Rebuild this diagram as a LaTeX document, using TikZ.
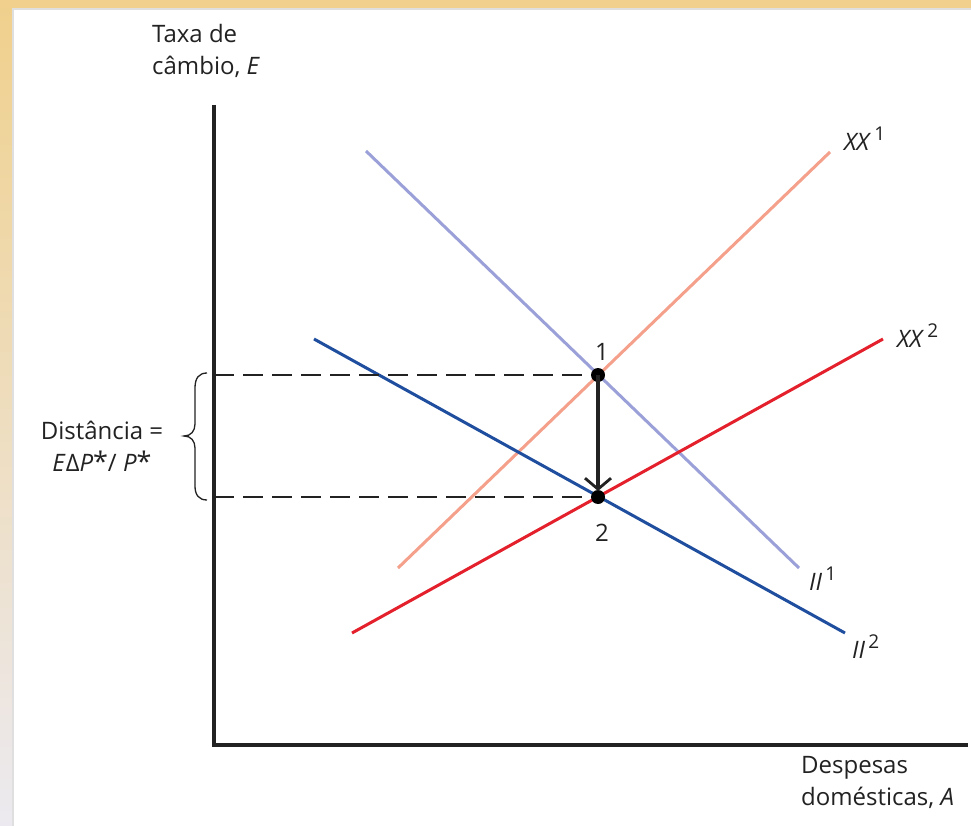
\documentclass[tikz,border=0pt]{standalone}
\usepackage{fontspec}
\setmainfont{Open Sans}
\usetikzlibrary{arrows.meta}
\definecolor{frameorange}{HTML}{F0D08C}
\definecolor{framegray}{HTML}{ECEAF0}
\definecolor{xxone}{HTML}{F4A08A}
\definecolor{xxtwo}{HTML}{E3202B}
\definecolor{iione}{HTML}{9BA1D8}
\definecolor{iitwo}{HTML}{1F4E9F}
\definecolor{ink}{HTML}{222222}
\newcommand{\supr}[1]{\raisebox{0.42em}{\fontsize{19}{19}\selectfont #1}}
\newcommand{\bigast}{{\fontsize{27}{27}\selectfont *}}
\begin{document}
\begin{tikzpicture}[x=1pt,y=-1pt,
  lbl/.style={font=\fontsize{24}{32}\selectfont, text=ink, inner sep=0pt},
  curve/.style={line width=3pt},
  axis/.style={line width=4pt, ink},
  guide/.style={line width=1.6pt, ink, dash pattern=on 20pt off 9pt},
  dot/.style={circle, fill=black, minimum size=14pt, inner sep=0pt}]
\useasboundingbox (0,0) rectangle (971,826);
% background frame
\fill[white] (0,0) rectangle (971,826);
\fill[frameorange] (0,0) rectangle (971,8);
\shade[top color=frameorange, bottom color=framegray] (0,0) rectangle (13,826);
\fill[frameorange] (0,0) rectangle (13,8);
\draw[line width=1.5pt, gray!25] (13,826) -- (13,9) -- (971,9);
% axes
\coordinate (origin) at (214,745);
\coordinate (ytop) at (214,105);
\coordinate (xend) at (968,745);
\draw[axis] (ytop) -- (origin) -- (xend);
% points
\coordinate (p1) at (598,375);
\coordinate (p2) at (598,497);
\coordinate (a1) at (214,375);
\coordinate (a2) at (214,497);
% curves
\coordinate (xx1s) at (398,568); \coordinate (xx1e) at (830,152);
\coordinate (xx2s) at (352,633); \coordinate (xx2e) at (883,339);
\coordinate (ii1s) at (366,151); \coordinate (ii1e) at (799,568);
\coordinate (ii2s) at (314,339); \coordinate (ii2e) at (845,633);
\draw[curve, xxone] (xx1s) -- (xx1e);
\draw[curve, iione] (ii1s) -- (ii1e);
\draw[curve, xxtwo] (xx2s) -- (xx2e);
\draw[curve, iitwo] (ii2s) -- (ii2e);
% dashed guides
\draw[guide] (a1) -- (p1);
\draw[guide] (a2) -- (p2);
% dots
\node[dot] (n1) at (p1) {};
\node[dot] (n2) at (p2) {};
% arrow
\draw[line width=3.5pt, ink, -{Straight Barb[length=11pt,width=26pt,line width=2.8pt]}] (n1.center) -- ([yshift=6pt]n2.center);
% brace
\draw[line width=1.3pt, ink] (207,373) .. controls (199,373) and (195,378) .. (195,388) -- (195,424) .. controls (195,431) and (191,436) .. (184,436) .. controls (191,436) and (195,441) .. (195,448) -- (195,486) .. controls (195,495) and (199,500) .. (207,500);
% labels
\node[lbl, align=left, anchor=north west] (ylab) at (152,24) {Taxa de\\câmbio, \textit{E}};
\node[lbl, align=left, anchor=north west] (xlab) at (801,756) {Despesas\\domésticas, \textit{A}};
\node[lbl, align=center] (dist) at (102,446) {Distância =\\\textit{E}Δ\textit{P}\bigast/ \textit{P}\bigast};
\node[lbl, anchor=west] (lxx1) at (844,139) {\textit{XX}\supr{\,1}};
\node[lbl, anchor=west] (lxx2) at (897,336) {\textit{XX}\supr{\,2}};
\node[lbl, anchor=west] (lii1) at (809,579) {\textit{II}\supr{\,1}};
\node[lbl, anchor=west] (lii2) at (852,647) {\textit{II}\supr{\,2}};
\node[lbl] (l1) at (602,352) {1};
\node[lbl] (l2) at (602,533) {2};
\end{tikzpicture}
\end{document}
